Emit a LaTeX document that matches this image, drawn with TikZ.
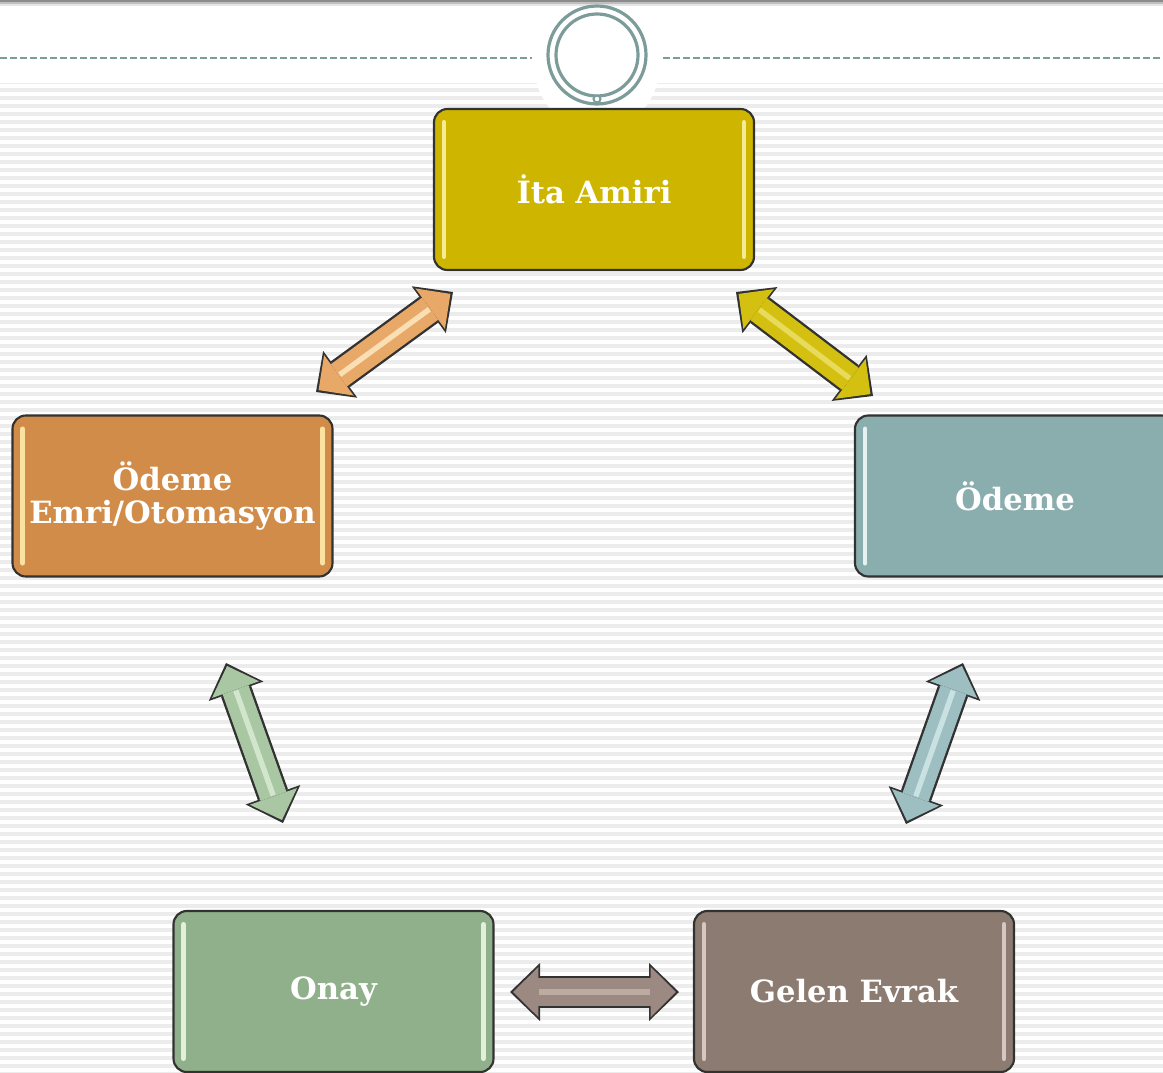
\documentclass[tikz,border=0pt]{standalone}
\usepackage{fontspec}
\newfontfamily\boxfont{DejaVu Serif}
\usetikzlibrary{arrows.meta}

\definecolor{ringc}{RGB}{124,156,154}
\definecolor{stripegray}{RGB}{236,236,236}
\definecolor{boxline}{RGB}{50,50,50}
\definecolor{itafill}{RGB}{205,181,0}
\definecolor{itahi}{RGB}{246,234,150}
\definecolor{emrifill}{RGB}{208,140,72}
\definecolor{emrihi}{RGB}{252,226,160}
\definecolor{odemefill}{RGB}{138,173,173}
\definecolor{odemehi}{RGB}{228,242,242}
\definecolor{onayfill}{RGB}{143,176,138}
\definecolor{onayhi}{RGB}{226,240,218}
\definecolor{gelenfill}{RGB}{140,123,112}
\definecolor{gelenhi}{RGB}{214,200,192}
\definecolor{arrorange}{RGB}{232,168,104}
\definecolor{arrorangehi}{RGB}{255,236,200}
\definecolor{arryellow}{RGB}{212,192,16}
\definecolor{arryellowhi}{RGB}{238,226,112}
\definecolor{arrgreen}{RGB}{169,199,163}
\definecolor{arrgreenhi}{RGB}{220,238,214}
\definecolor{arrteal}{RGB}{157,191,194}
\definecolor{arrtealhi}{RGB}{214,234,234}
\definecolor{arrbrown}{RGB}{156,138,130}
\definecolor{arrbrownhi}{RGB}{196,180,172}

\tikzset{
  boxnode/.style 2 args={draw=boxline, line width=1.6pt, rounded corners=10pt,
    fill=#1, minimum width=240pt, minimum height=120.75pt, inner sep=0pt,
    text=white, align=center, font=\boxfont\bfseries\fontsize{23}{25}\selectfont,
    path picture={
      \draw[#2, line width=3.5pt, line cap=round]
        ([xshift=7.5pt,yshift=-10pt]path picture bounding box.north west) --
        ([xshift=7.5pt,yshift=10pt]path picture bounding box.south west);
      \draw[#2, line width=3.5pt, line cap=round]
        ([xshift=-7.5pt,yshift=-10pt]path picture bounding box.north east) --
        ([xshift=-7.5pt,yshift=10pt]path picture bounding box.south east);
    }},
  bidir/.style 2 args={draw=boxline, line width=24pt,
    {Triangle[length=22.5pt,width=43.5pt,line width=0pt]}-{Triangle[length=22.5pt,width=43.5pt,line width=0pt]},
    postaction={draw=#1, line width=20.5pt, shorten >=2.4pt, shorten <=2.4pt,
      {Triangle[length=18.8pt,width=37.5pt,line width=0pt]}-{Triangle[length=18.8pt,width=37.5pt,line width=0pt]}},
    postaction={draw=#2, line width=4pt, shorten >=22pt, shorten <=22pt, -, opacity=0.8}}
}

\begin{document}
\begin{tikzpicture}[x=0.75pt,y=0.75pt,yscale=-1,xscale=1]
\clip (0,0) rectangle (1163,1073);

% background
\fill[white] (0,0) rectangle (1163,83);
\draw[black!45, line width=1.5pt] (0,1) -- (1163,1);
\draw[black!25, line width=1.5pt] (0,3) -- (1163,3);
\draw[black!10, line width=1.5pt] (0,5) -- (1163,5);
\fill[stripegray] (0,83) rectangle (1163,1073);
\foreach \y in {86,94,...,1073}
  \draw[white, line width=2.6pt] (0,\y) -- (1163,\y);

% title rule and ring
\draw[ringc, line width=1.2pt, dash pattern=on 5pt off 2.5pt] (0,58) -- (532,58);
\draw[ringc, line width=1.2pt, dash pattern=on 5pt off 2.5pt] (663,58) -- (1163,58);
\fill[white] (597,68) circle (62);
\draw[ringc, line width=2.4pt] (597,55) circle (49);
\draw[ringc, line width=2.4pt] (597,55) circle (41);
\draw[ringc, line width=1.5pt, fill=white] (597,99) circle (3.5);

% boxes
\node[boxnode={itafill}{itahi}] (ita) at (594,189.5) {İta Amiri};
\node[boxnode={emrifill}{emrihi}] (emri) at (172.5,496) {Ödeme\\Emri/Otomasyon};
\node[boxnode={odemefill}{odemehi}] (odeme) at (1015,496) {Ödeme};
\node[boxnode={onayfill}{onayhi}] (onay) at (333.5,991.5) {Onay};
\node[boxnode={gelenfill}{gelenhi}] (gelen) at (854,991.5) {Gelen Evrak};

% arrow ends
\coordinate (emri-up) at (316,392);
\coordinate (ita-left) at (453,292);
\coordinate (ita-right) at (736,292);
\coordinate (odeme-up) at (873,396);
\coordinate (emri-down) at (226,663);
\coordinate (onay-up) at (283,823);
\coordinate (odeme-down) at (963,663);
\coordinate (gelen-up) at (906,824);
\coordinate (onay-right) at (510,992);
\coordinate (gelen-left) at (679,992);

% double arrows
\draw[bidir={arrorange}{arrorangehi}] (emri-up) -- (ita-left);
\draw[bidir={arryellow}{arryellowhi}] (ita-right) -- (odeme-up);
\draw[bidir={arrgreen}{arrgreenhi}] (emri-down) -- (onay-up);
\draw[bidir={arrteal}{arrtealhi}] (odeme-down) -- (gelen-up);
\draw[bidir={arrbrown}{arrbrownhi}] (onay-right) -- (gelen-left);

\end{tikzpicture}
\end{document}
